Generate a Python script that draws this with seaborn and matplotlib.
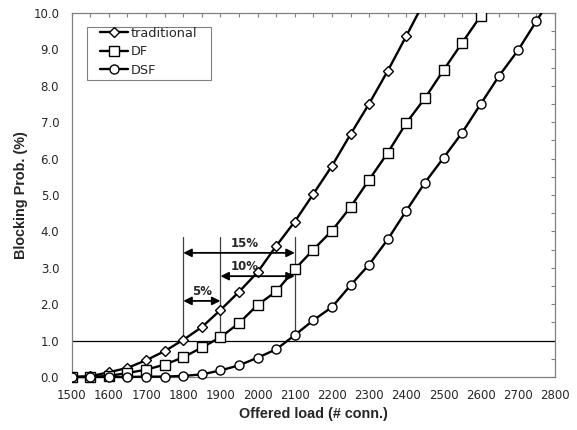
import numpy as np
import pandas as pd
import seaborn as sns
import matplotlib.pyplot as plt
from matplotlib.ticker import MultipleLocator
from matplotlib.patches import Rectangle

sns.set_style("white")
plt.rcParams['font.family'] = ['DejaVu Sans']

# offered load (# conn.), step 50
load = [1500, 1550, 1600, 1650, 1700, 1750, 1800, 1850, 1900, 1950, 2000,
        2050, 2100, 2150, 2200, 2250, 2300, 2350, 2400, 2450, 2500, 2550,
        2600, 2650, 2700, 2750, 2800]

# blocking probability (%)
traditional = [0.0, 0.02, 0.13, 0.25, 0.46, 0.71, 1.02, 1.37, 1.84, 2.34, 2.88,
               3.6, 4.27, 5.03, 5.8, 6.67, 7.51, 8.41, 9.37, 10.35]
df_vals = [0.0, 0.0, 0.03, 0.11, 0.2, 0.34, 0.54, 0.81, 1.09, 1.48, 1.98,
           2.35, 2.96, 3.5, 4.02, 4.67, 5.42, 6.16, 6.98, 7.66, 8.43, 9.18,
           9.92, 10.7]
dsf = [0.0, 0.0, 0.0, 0.0, 0.01, 0.01, 0.03, 0.07, 0.18, 0.32, 0.53,
       0.76, 1.15, 1.56, 1.92, 2.52, 3.09, 3.78, 4.57, 5.34, 6.02, 6.71,
       7.5, 8.28, 8.97, 9.78, 10.6]

series = [("traditional", traditional, "D", 5.4),
          ("DF", df_vals, "s", 6.8),
          ("DSF", dsf, "o", 6.5)]

fig = plt.figure(figsize=(5.77, 4.30), dpi=100)
ax = fig.add_axes([0.1243, 0.1233, 0.8377, 0.8465])

# clip only at the top / sides so markers sitting on 0 stay whole
clip = Rectangle((0, -0.05), 1, 1.05, transform=ax.transAxes)

for name, vals, mk, ms in series:
    d = pd.DataFrame({"load": load[:len(vals)], "prob": vals})
    sns.lineplot(data=d, x="load", y="prob", ax=ax, color="black", lw=1.7,
                 marker=mk, markersize=ms, markerfacecolor="white",
                 markeredgecolor="black", markeredgewidth=1.0, label=name)
    ax.lines[-1].set_clip_path(clip)
    ax.lines[-1].set_zorder(3)

# 1% threshold line
ax.axhline(1.0, color="black", lw=0.9, zorder=1)

# gain markers
for xv in [1800, 1900, 2100]:
    ax.plot([xv, xv], [1.0, 3.85], color="#404040", lw=0.9, zorder=1)

arrows = [(1800, 2100, 3.41, "15%", 1965, 3.50),
          (1900, 2100, 2.77, "10%", 1965, 2.86),
          (1800, 1900, 2.09, "5%", 1850, 2.17)]
for x0, x1, yv, txt, tx, ty in arrows:
    ax.annotate("", xy=(x0, yv), xytext=(x1, yv),
                arrowprops=dict(arrowstyle="<|-|>", color="black", lw=1.3,
                                shrinkA=0, shrinkB=0, mutation_scale=12))
    ax.text(tx, ty, txt, ha="center", va="bottom", fontsize=8.5,
            fontweight="bold")

ax.set_xlim(1500, 2800)
ax.set_ylim(0, 10)
ax.xaxis.set_major_locator(MultipleLocator(100))
ax.xaxis.set_minor_locator(MultipleLocator(50))
ax.yaxis.set_major_locator(MultipleLocator(1.0))
ax.yaxis.set_minor_locator(MultipleLocator(0.5))
ax.yaxis.set_major_formatter(plt.FuncFormatter(lambda v, p: f"{v:.1f}"))
ax.tick_params(which="both", direction="in", top=True, right=True,
               color="#808080", labelsize=8.5, width=0.8, length=3)
ax.tick_params(axis="x", pad=9)
ax.tick_params(axis="y", pad=9)
for sp in ax.spines.values():
    sp.set_color("#808080")
    sp.set_linewidth(0.9)

ax.set_xlabel("Offered load (# conn.)", fontsize=10.4, fontweight="bold",
              family="Liberation Sans", labelpad=3)
ax.set_ylabel("Blocking Prob. (%)", fontsize=10.4, fontweight="bold",
              family="Liberation Sans", labelpad=4)

# legend box
ax.add_patch(Rectangle((0.032, 0.816), 0.2566, 0.1456, transform=ax.transAxes,
                       facecolor="white", edgecolor="#808080", lw=0.8,
                       zorder=4))
leg = ax.legend(loc="upper left", bbox_to_anchor=(0.0586, 0.962), fontsize=9.3,
                frameon=False, handlelength=2.2, handletextpad=0.15,
                borderpad=0.0, borderaxespad=0.0, labelspacing=0.42)
leg.set_zorder(5)

fig.savefig("out.png", dpi=100)
